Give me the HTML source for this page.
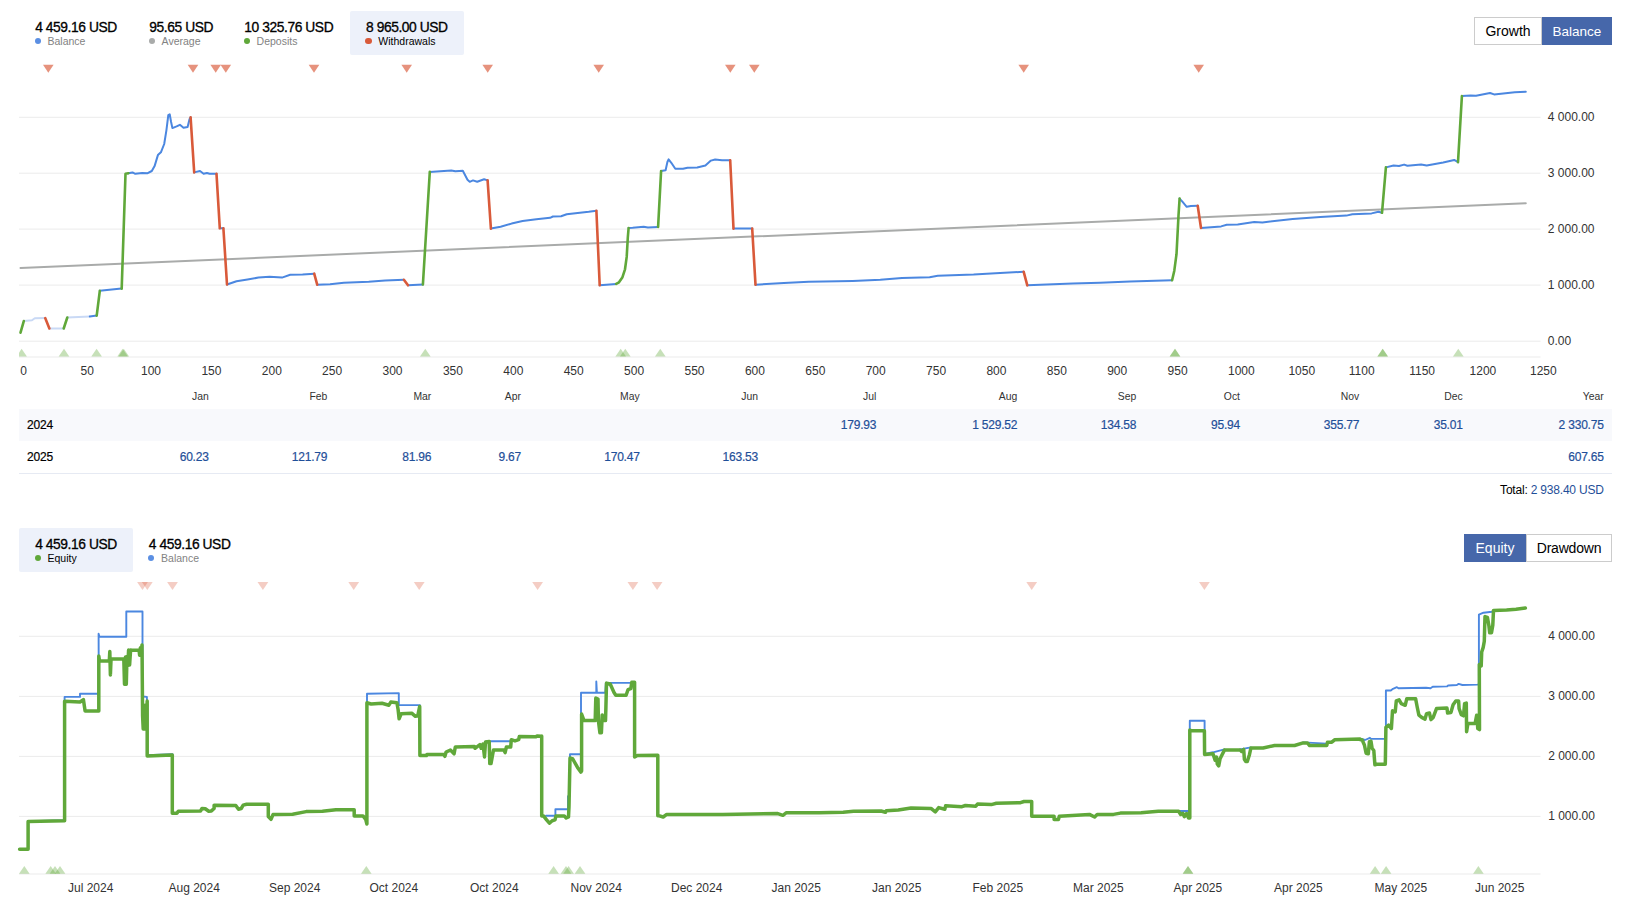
<!DOCTYPE html>
<html lang="en"><head><meta charset="utf-8"><title>Signal charts</title>
<style>
html,body{margin:0;padding:0;background:#fff;}
body{width:1626px;height:908px;position:relative;overflow:hidden;font-family:"Liberation Sans",sans-serif;color:#000;}
svg{position:absolute;left:0;top:0;}
.ax{font-family:"Liberation Sans",sans-serif;font-size:12px;fill:#333;}
.lg{position:absolute;height:43.7px;box-sizing:border-box;padding-left:16px;border-radius:2px;white-space:nowrap;}
.lg.act{background:#edf1fa;}
.lg .v{-webkit-text-stroke:0.3px #000;position:absolute;left:16px;top:8.7px;font-size:13.8px;line-height:16px;letter-spacing:-0.42px;color:#000;}
.lg .l{position:absolute;left:16px;top:24px;font-size:10.5px;line-height:12px;color:#828282;padding-left:12.3px;}
.lg.act .l{color:#000;}
.lg .l i{position:absolute;left:-0.6px;top:3.2px;width:6.2px;height:6.2px;border-radius:50%;}
.btn{position:absolute;height:28px;box-sizing:border-box;border:1px solid #ccc;background:#fff;font-size:14px;line-height:26px;text-align:center;color:#000;}
.btn.on{background:#4667aa;border-color:#4667aa;color:#fff;}
.row{position:absolute;left:19px;width:1593px;box-sizing:border-box;}
.th{position:absolute;font-size:10.4px;line-height:14px;color:#333;white-space:nowrap;}
.td{-webkit-text-stroke:0.2px #1f4f99;position:absolute;font-size:12px;letter-spacing:-0.2px;line-height:16px;color:#1f4f99;white-space:nowrap;}
.yr{-webkit-text-stroke:0.2px #000;position:absolute;font-size:12px;letter-spacing:-0.2px;line-height:16px;color:#000;}
.tot{position:absolute;font-size:12px;letter-spacing:-0.2px;line-height:16px;color:#000;white-space:nowrap;}
.tot span{color:#1f4f99;}
</style></head><body>
<svg width="1626" height="908" viewBox="0 0 1626 908">
<defs><clipPath id="c1"><rect x="19" y="340" width="1522" height="17"/></clipPath></defs>
<line x1="19" x2="1540.5" y1="117.3" y2="117.3" stroke="#ebebeb" stroke-width="1"/>
<line x1="19" x2="1540.5" y1="173.2" y2="173.2" stroke="#ebebeb" stroke-width="1"/>
<line x1="19" x2="1540.5" y1="229.1" y2="229.1" stroke="#ebebeb" stroke-width="1"/>
<line x1="19" x2="1540.5" y1="285.1" y2="285.1" stroke="#ebebeb" stroke-width="1"/>
<line x1="19" x2="1540.5" y1="341.2" y2="341.2" stroke="#ebebeb" stroke-width="1"/>
<line x1="19" x2="1540.5" y1="357" y2="357" stroke="#ebebeb" stroke-width="1"/>
<path d="M20.5 268.0 L1525.8 203.3" fill="none" stroke="#a9abaa" stroke-width="2.0" stroke-linejoin="round" stroke-linecap="round"/>
<path d="M23.8 321.1 L32.0 320.3 L34.8 318.3 L45.2 318.1" fill="none" stroke="#c9d9f5" stroke-width="2.0" stroke-linejoin="round" stroke-linecap="round"/>
<path d="M49.4 328.5 L63.7 328.5" fill="none" stroke="#c9d9f5" stroke-width="2.0" stroke-linejoin="round" stroke-linecap="round"/>
<path d="M67.3 317.5 L89.8 316.4" fill="none" stroke="#c9d9f5" stroke-width="2.0" stroke-linejoin="round" stroke-linecap="round"/>
<path d="M89.8 316.4 L96.7 315.6" fill="none" stroke="#4b87e0" stroke-width="2.0" stroke-linejoin="round" stroke-linecap="round"/>
<path d="M99.8 290.8 L121.5 288.6" fill="none" stroke="#4b87e0" stroke-width="2.0" stroke-linejoin="round" stroke-linecap="round"/>
<path d="M128.4 173.2 L132.5 172.4 L135.3 173.8 L142.2 173.0 L147.7 173.2 L151.8 171.0 L154.6 166.1 L157.9 155.1 L160.9 152.3 L164.2 144.0 L166.4 130.3 L168.3 115.1 L169.7 114.3 L171.1 122.0 L172.4 128.1 L176.6 126.4 L179.9 124.8 L183.5 127.8 L187.6 127.0 L189.5 119.3 L190.6 117.3" fill="none" stroke="#4b87e0" stroke-width="2.0" stroke-linejoin="round" stroke-linecap="round"/>
<path d="M194.2 172.4 L200.0 171.0 L203.6 173.8 L206.9 173.0 L209.6 173.8 L216.5 173.8" fill="none" stroke="#4b87e0" stroke-width="2.0" stroke-linejoin="round" stroke-linecap="round"/>
<path d="M219.8 228.3 L223.4 228.3" fill="none" stroke="#4b87e0" stroke-width="2.0" stroke-linejoin="round" stroke-linecap="round"/>
<path d="M227.0 284.5 L236.5 281.2 L247.5 279.5 L258.5 277.6 L269.6 276.8 L282.0 277.6 L290.2 274.8 L302.6 274.6 L314.2 273.7" fill="none" stroke="#4b87e0" stroke-width="2.0" stroke-linejoin="round" stroke-linecap="round"/>
<path d="M317.2 284.7 L330.1 284.2 L343.9 282.8 L368.7 281.7 L385.2 280.6 L403.9 279.8" fill="none" stroke="#4b87e0" stroke-width="2.0" stroke-linejoin="round" stroke-linecap="round"/>
<path d="M408.0 285.3 L422.9 284.5" fill="none" stroke="#4b87e0" stroke-width="2.0" stroke-linejoin="round" stroke-linecap="round"/>
<path d="M429.8 171.9 L440.3 171.3 L451.3 170.5 L455.4 171.3 L462.8 170.8 L467.5 179.8 L469.7 181.8 L473.0 180.4 L477.2 181.8 L484.1 179.3 L487.6 180.4" fill="none" stroke="#4b87e0" stroke-width="2.0" stroke-linejoin="round" stroke-linecap="round"/>
<path d="M490.9 228.6 L500.6 226.7 L511.6 223.6 L522.6 221.1 L536.4 219.2 L550.1 217.8 L552.9 216.5 L561.1 216.2 L566.7 214.3 L577.7 212.9 L588.7 211.8 L596.4 210.7" fill="none" stroke="#4b87e0" stroke-width="2.0" stroke-linejoin="round" stroke-linecap="round"/>
<path d="M599.7 285.3 L616.2 283.9" fill="none" stroke="#4b87e0" stroke-width="2.0" stroke-linejoin="round" stroke-linecap="round"/>
<path d="M628.6 228.0 L632.7 227.8 L643.7 226.7 L647.9 227.5 L658.1 226.9" fill="none" stroke="#4b87e0" stroke-width="2.0" stroke-linejoin="round" stroke-linecap="round"/>
<path d="M661.1 171.0 L665.6 170.2 L667.4 162.0 L668.6 159.3 L671.3 162.8 L675.3 168.8 L683.0 168.8 L687.5 167.7 L697.2 167.5 L705.4 165.5 L710.9 160.6 L715.1 159.5 L722.0 160.3 L730.2 160.3" fill="none" stroke="#4b87e0" stroke-width="2.0" stroke-linejoin="round" stroke-linecap="round"/>
<path d="M733.5 228.6 L752.2 228.6" fill="none" stroke="#4b87e0" stroke-width="2.0" stroke-linejoin="round" stroke-linecap="round"/>
<path d="M755.5 284.7 L783.9 283.1 L808.7 281.7 L852.7 280.9 L880.3 279.8 L902.0 278.1 L929.6 277.3 L937.8 275.7 L973.6 274.6 L995.6 273.2 L1023.7 271.8" fill="none" stroke="#4b87e0" stroke-width="2.0" stroke-linejoin="round" stroke-linecap="round"/>
<path d="M1027.3 285.3 L1072.7 283.6 L1100.0 282.8 L1130.0 281.5 L1172.1 280.3" fill="none" stroke="#4b87e0" stroke-width="2.0" stroke-linejoin="round" stroke-linecap="round"/>
<path d="M1179.6 198.6 L1182.6 201.9 L1186.7 206.8 L1190.9 206.0 L1197.7 205.7" fill="none" stroke="#4b87e0" stroke-width="2.0" stroke-linejoin="round" stroke-linecap="round"/>
<path d="M1201.0 228.0 L1221.1 226.4 L1226.7 224.7 L1237.7 224.4 L1254.2 222.0 L1262.4 222.5 L1292.7 218.9 L1320.3 217.0 L1346.4 215.6 L1352.3 214.2 L1371.6 213.4 L1378.5 211.7 L1382.0 212.8" fill="none" stroke="#4b87e0" stroke-width="2.0" stroke-linejoin="round" stroke-linecap="round"/>
<path d="M1385.9 167.4 L1393.6 165.5 L1399.0 166.0 L1404.1 164.6 L1407.4 165.7 L1421.1 164.4 L1426.7 165.5 L1443.2 162.4 L1454.2 159.9 L1458.0 162.1" fill="none" stroke="#4b87e0" stroke-width="2.0" stroke-linejoin="round" stroke-linecap="round"/>
<path d="M1461.9 96.1 L1470.7 95.5 L1476.0 95.8 L1490.0 93.0 L1494.1 94.4 L1514.8 92.2 L1525.8 91.7" fill="none" stroke="#4b87e0" stroke-width="2.0" stroke-linejoin="round" stroke-linecap="round"/>
<path d="M20.5 332.7 L23.8 321.1" fill="none" stroke="#60a83a" stroke-width="2.6" stroke-linejoin="round" stroke-linecap="round"/>
<path d="M45.2 318.1 L49.4 328.5" fill="none" stroke="#d95a3a" stroke-width="2.6" stroke-linejoin="round" stroke-linecap="round"/>
<path d="M63.7 328.5 L67.3 317.5" fill="none" stroke="#60a83a" stroke-width="2.6" stroke-linejoin="round" stroke-linecap="round"/>
<path d="M96.7 315.6 L99.8 290.8" fill="none" stroke="#60a83a" stroke-width="2.6" stroke-linejoin="round" stroke-linecap="round"/>
<path d="M121.7 288.6 L125.5 173.8 L128.4 173.2" fill="none" stroke="#60a83a" stroke-width="2.6" stroke-linejoin="round" stroke-linecap="round"/>
<path d="M190.6 117.3 L194.2 172.4" fill="none" stroke="#d95a3a" stroke-width="2.6" stroke-linejoin="round" stroke-linecap="round"/>
<path d="M216.5 173.8 L219.8 228.3" fill="none" stroke="#d95a3a" stroke-width="2.6" stroke-linejoin="round" stroke-linecap="round"/>
<path d="M223.4 228.3 L227.0 284.5" fill="none" stroke="#d95a3a" stroke-width="2.6" stroke-linejoin="round" stroke-linecap="round"/>
<path d="M314.2 273.7 L317.2 284.7" fill="none" stroke="#d95a3a" stroke-width="2.6" stroke-linejoin="round" stroke-linecap="round"/>
<path d="M403.9 279.8 L408.0 285.3" fill="none" stroke="#d95a3a" stroke-width="2.6" stroke-linejoin="round" stroke-linecap="round"/>
<path d="M422.9 284.5 L429.8 171.9" fill="none" stroke="#60a83a" stroke-width="2.6" stroke-linejoin="round" stroke-linecap="round"/>
<path d="M487.6 180.4 L490.9 228.6" fill="none" stroke="#d95a3a" stroke-width="2.6" stroke-linejoin="round" stroke-linecap="round"/>
<path d="M596.4 210.7 L599.7 285.3" fill="none" stroke="#d95a3a" stroke-width="2.6" stroke-linejoin="round" stroke-linecap="round"/>
<path d="M616.2 283.9 L619.0 282.3 L622.3 277.6 L625.0 269.3 L626.7 256.9 L627.8 237.7 L628.6 228.0" fill="none" stroke="#60a83a" stroke-width="2.6" stroke-linejoin="round" stroke-linecap="round"/>
<path d="M658.1 226.9 L661.1 171.0" fill="none" stroke="#60a83a" stroke-width="2.6" stroke-linejoin="round" stroke-linecap="round"/>
<path d="M730.2 160.3 L733.5 228.6" fill="none" stroke="#d95a3a" stroke-width="2.6" stroke-linejoin="round" stroke-linecap="round"/>
<path d="M752.2 228.6 L755.5 284.7" fill="none" stroke="#d95a3a" stroke-width="2.6" stroke-linejoin="round" stroke-linecap="round"/>
<path d="M1023.7 271.8 L1027.3 285.3" fill="none" stroke="#d95a3a" stroke-width="2.6" stroke-linejoin="round" stroke-linecap="round"/>
<path d="M1172.1 280.3 L1174.3 270.7 L1176.5 254.2 L1178.5 215.6 L1179.6 198.6" fill="none" stroke="#60a83a" stroke-width="2.6" stroke-linejoin="round" stroke-linecap="round"/>
<path d="M1197.7 205.7 L1201.0 228.0" fill="none" stroke="#d95a3a" stroke-width="2.6" stroke-linejoin="round" stroke-linecap="round"/>
<path d="M1382.0 212.8 L1385.9 167.4" fill="none" stroke="#60a83a" stroke-width="2.6" stroke-linejoin="round" stroke-linecap="round"/>
<path d="M1458.0 162.1 L1461.9 96.1" fill="none" stroke="#60a83a" stroke-width="2.6" stroke-linejoin="round" stroke-linecap="round"/>
<path d="M43.0 64.8L53.6 64.8L48.3 72.7Z" fill="#d95a3a" fill-opacity="0.66"/>
<path d="M187.7 64.8L198.3 64.8L193.0 72.7Z" fill="#d95a3a" fill-opacity="0.66"/>
<path d="M210.4 64.8L221.0 64.8L215.7 72.7Z" fill="#d95a3a" fill-opacity="0.66"/>
<path d="M220.5 64.8L231.1 64.8L225.8 72.7Z" fill="#d95a3a" fill-opacity="0.66"/>
<path d="M308.7 64.8L319.3 64.8L314.0 72.7Z" fill="#d95a3a" fill-opacity="0.66"/>
<path d="M401.4 64.8L412.0 64.8L406.7 72.7Z" fill="#d95a3a" fill-opacity="0.66"/>
<path d="M482.4 64.8L493.0 64.8L487.7 72.7Z" fill="#d95a3a" fill-opacity="0.66"/>
<path d="M593.4 64.8L604.0 64.8L598.7 72.7Z" fill="#d95a3a" fill-opacity="0.66"/>
<path d="M725.0 64.8L735.6 64.8L730.3 72.7Z" fill="#d95a3a" fill-opacity="0.66"/>
<path d="M749.0 64.8L759.6 64.8L754.3 72.7Z" fill="#d95a3a" fill-opacity="0.66"/>
<path d="M1018.4 64.8L1029.0 64.8L1023.7 72.7Z" fill="#d95a3a" fill-opacity="0.66"/>
<path d="M1193.4 64.8L1204.0 64.8L1198.7 72.7Z" fill="#d95a3a" fill-opacity="0.66"/>
<g clip-path="url(#c1)">
<path d="M16.3 356.6L26.9 356.6L21.6 348.8Z" fill="#60a83a" fill-opacity="0.36"/>
<path d="M58.7 356.6L69.3 356.6L64.0 348.8Z" fill="#60a83a" fill-opacity="0.36"/>
<path d="M91.3 356.6L101.9 356.6L96.6 348.8Z" fill="#60a83a" fill-opacity="0.36"/>
<path d="M117.3 356.6L127.9 356.6L122.6 348.8Z" fill="#60a83a" fill-opacity="0.36"/>
<path d="M118.5 356.6L129.1 356.6L123.8 348.8Z" fill="#60a83a" fill-opacity="0.36"/>
<path d="M420.0 356.6L430.6 356.6L425.3 348.8Z" fill="#60a83a" fill-opacity="0.36"/>
<path d="M615.4 356.6L626.0 356.6L620.7 348.8Z" fill="#60a83a" fill-opacity="0.36"/>
<path d="M620.0 356.6L630.6 356.6L625.3 348.8Z" fill="#60a83a" fill-opacity="0.36"/>
<path d="M655.0 356.6L665.6 356.6L660.3 348.8Z" fill="#60a83a" fill-opacity="0.36"/>
<path d="M1169.7 356.6L1180.3 356.6L1175.0 348.8Z" fill="#60a83a" fill-opacity="0.36"/>
<path d="M1169.7 356.6L1180.3 356.6L1175.0 348.8Z" fill="#60a83a" fill-opacity="0.36"/>
<path d="M1377.4 356.6L1388.0 356.6L1382.7 348.8Z" fill="#60a83a" fill-opacity="0.36"/>
<path d="M1377.4 356.6L1388.0 356.6L1382.7 348.8Z" fill="#60a83a" fill-opacity="0.36"/>
<path d="M1453.0 356.6L1463.6 356.6L1458.3 348.8Z" fill="#60a83a" fill-opacity="0.36"/>
</g>
<text x="20.2" y="375" class="ax">0</text>
<text x="80.6" y="375" class="ax">50</text>
<text x="141.0" y="375" class="ax">100</text>
<text x="201.4" y="375" class="ax">150</text>
<text x="261.8" y="375" class="ax">200</text>
<text x="322.1" y="375" class="ax">250</text>
<text x="382.5" y="375" class="ax">300</text>
<text x="442.9" y="375" class="ax">350</text>
<text x="503.3" y="375" class="ax">400</text>
<text x="563.7" y="375" class="ax">450</text>
<text x="624.1" y="375" class="ax">500</text>
<text x="684.5" y="375" class="ax">550</text>
<text x="744.9" y="375" class="ax">600</text>
<text x="805.3" y="375" class="ax">650</text>
<text x="865.7" y="375" class="ax">700</text>
<text x="926.1" y="375" class="ax">750</text>
<text x="986.4" y="375" class="ax">800</text>
<text x="1046.8" y="375" class="ax">850</text>
<text x="1107.2" y="375" class="ax">900</text>
<text x="1167.6" y="375" class="ax">950</text>
<text x="1228.0" y="375" class="ax">1000</text>
<text x="1288.4" y="375" class="ax">1050</text>
<text x="1348.8" y="375" class="ax">1100</text>
<text x="1409.2" y="375" class="ax">1150</text>
<text x="1469.6" y="375" class="ax">1200</text>
<text x="1530.0" y="375" class="ax">1250</text>
<text x="1547.8" y="121.1" class="ax">4 000.00</text>
<text x="1547.8" y="177.0" class="ax">3 000.00</text>
<text x="1547.8" y="232.9" class="ax">2 000.00</text>
<text x="1547.8" y="288.9" class="ax">1 000.00</text>
<text x="1547.8" y="345.0" class="ax">0.00</text>
<line x1="19" x2="1540.5" y1="636.3" y2="636.3" stroke="#ebebeb" stroke-width="1"/>
<line x1="19" x2="1540.5" y1="696.4" y2="696.4" stroke="#ebebeb" stroke-width="1"/>
<line x1="19" x2="1540.5" y1="756.4" y2="756.4" stroke="#ebebeb" stroke-width="1"/>
<line x1="19" x2="1540.5" y1="816.4" y2="816.4" stroke="#ebebeb" stroke-width="1"/>
<line x1="19" x2="1540.5" y1="874" y2="874" stroke="#ebebeb" stroke-width="1"/>
<path d="M19.6 849.0 L28.1 849.0 L28.1 821.2 L50.0 820.6 L64.6 820.2 L64.6 696.9 L80.0 696.9 L80.0 693.8 L98.8 693.8 L98.6 633.7 L99.4 636.8 L126.3 636.8 L126.3 611.5 L142.5 611.5 L142.5 696.5 L146.9 696.9 L146.9 755.2 L172.5 754.3 L172.5 812.0" fill="none" stroke="#4b87e0" stroke-width="1.9" stroke-linejoin="round" stroke-linecap="round" stroke-linejoin="miter"/>
<path d="M367.0 822.0 L367.0 693.8 L398.8 693.1 L398.8 705.1 L419.9 705.1 L419.9 754.0" fill="none" stroke="#4b87e0" stroke-width="1.9" stroke-linejoin="round" stroke-linecap="round" stroke-linejoin="miter"/>
<path d="M486.0 741.5 L491.2 741.3 L511.0 741.3" fill="none" stroke="#4b87e0" stroke-width="1.9" stroke-linejoin="round" stroke-linecap="round" stroke-linejoin="miter"/>
<path d="M546.0 815.7 L555.4 815.7 L555.4 809.2 L568.0 809.2 L568.0 796.2 L569.6 796.2 L570.0 754.2 L581.0 754.2 L581.0 692.8 L596.3 692.8 L596.3 681.5 L596.9 692.8 L605.3 692.8 L605.9 682.9 L634.6 682.9 L634.6 755.0" fill="none" stroke="#4b87e0" stroke-width="1.9" stroke-linejoin="round" stroke-linecap="round" stroke-linejoin="miter"/>
<path d="M1180.0 811.0 L1189.7 811.0 L1189.8 720.8 L1204.6 720.8 L1204.6 754.0 L1213.0 752.3 L1224.4 749.3" fill="none" stroke="#4b87e0" stroke-width="1.9" stroke-linejoin="round" stroke-linecap="round" stroke-linejoin="miter"/>
<path d="M1240.0 749.4 L1250.9 747.4" fill="none" stroke="#4b87e0" stroke-width="1.9" stroke-linejoin="round" stroke-linecap="round" stroke-linejoin="miter"/>
<path d="M1303.1 742.4 L1326.8 743.6" fill="none" stroke="#4b87e0" stroke-width="1.9" stroke-linejoin="round" stroke-linecap="round" stroke-linejoin="miter"/>
<path d="M1337.5 740.0 L1363.0 739.3 L1365.0 740.0 L1369.9 737.8 L1371.0 738.9 L1384.8 738.9 L1385.9 738.9 L1385.9 690.5 L1390.8 690.5 L1393.0 688.8 L1396.9 687.2 L1398.5 688.3 L1426.1 687.7 L1430.5 688.3 L1432.7 686.8 L1447.0 686.4 L1448.1 685.5 L1456.9 685.0 L1458.6 683.9 L1462.4 685.0 L1477.3 684.6 L1478.9 684.4 L1478.9 614.7 L1483.5 612.7 L1492.0 611.7 L1493.5 610.4" fill="none" stroke="#4b87e0" stroke-width="1.9" stroke-linejoin="round" stroke-linecap="round" stroke-linejoin="miter"/>
<path d="M19.6 849.2 L28.1 849.2 L28.1 821.5 L64.6 820.8 L64.6 701.3 L80.0 702.0 L83.4 699.6 L85.1 710.9 L98.8 710.9 L98.8 656.0 L99.5 660.9 L109.3 660.9 L109.8 651.5 L110.4 674.9 L111.0 660.0 L111.5 659.0 L123.8 659.0 L124.5 684.3 L125.5 657.0 L126.3 684.3 L127.0 656.5 L127.8 665.5 L128.6 650.0 L129.6 665.0 L130.6 650.0 L131.2 650.2 L139.1 650.2 L139.6 655.2 L140.4 647.8 L141.2 655.2 L142.0 645.0 L142.6 716.0 L143.2 729.0 L144.0 709.0 L144.8 729.0 L145.6 705.0 L146.4 727.0 L147.2 701.1 L147.2 756.0 L172.3 755.0 L172.3 813.2 L176.9 813.2 L178.3 811.2 L200.6 810.9 L202.0 808.5 L205.3 808.8 L208.7 811.2 L211.4 810.9 L214.1 808.5 L214.1 805.2 L235.8 805.5 L238.5 809.2 L241.2 808.5 L243.2 805.1 L246.6 804.2 L268.3 804.2 L268.3 816.6 L271.0 819.3 L273.0 814.6 L292.6 814.2 L306.1 811.6 L322.4 811.2 L335.9 809.8 L354.2 809.8 L354.2 815.9 L363.0 815.9 L365.7 819.3 L366.9 824.0 L366.9 702.8 L371.1 704.0 L382.0 703.3 L388.9 705.2 L390.8 702.1 L396.9 702.8 L398.1 709.5 L399.1 718.7 L401.2 713.8 L411.7 713.2 L415.4 716.3 L417.8 715.7 L419.7 706.4 L419.9 755.6 L426.4 755.6 L427.0 754.4 L443.6 754.4 L444.9 756.3 L446.1 752.0 L450.4 750.1 L454.1 753.8 L455.3 747.0 L474.4 746.4 L475.0 748.3 L479.9 744.6 L481.2 748.3 L483.0 744.0 L484.5 756.9 L485.5 742.1 L489.2 741.5 L489.8 763.6 L491.0 763.6 L492.8 753.8 L493.5 750.1 L503.9 750.1 L505.1 752.6 L506.4 747.0 L510.7 747.0 L511.3 739.7 L515.0 740.9 L518.7 739.7 L519.3 736.6 L535.9 736.8 L537.1 736.0 L541.4 736.3 L541.7 736.1 L541.7 816.1 L543.7 816.1 L546.6 819.9 L549.4 823.2 L552.2 820.7 L555.0 819.9 L555.9 816.1 L564.3 816.1 L566.2 818.0 L568.5 817.0 L569.0 806.7 L570.0 758.0 L572.8 759.0 L577.5 767.4 L580.8 772.1 L581.6 771.0 L581.6 714.0 L584.0 720.6 L595.2 720.6 L595.8 698.1 L598.0 699.0 L598.4 720.6 L599.9 732.7 L601.4 732.7 L602.2 714.9 L603.7 720.6 L605.5 720.6 L605.9 707.5 L606.5 683.1 L610.2 684.0 L614.0 692.5 L615.8 695.3 L626.1 695.3 L628.0 689.7 L630.8 688.7 L631.8 682.2 L634.6 682.2 L634.6 757.1 L637.3 755.5 L657.8 755.3 L657.8 815.7 L657.8 815.3 L663.2 817.0 L666.7 814.4 L722.7 814.4 L777.8 813.6 L782.9 815.3 L786.4 812.7 L819.1 812.7 L843.2 812.2 L853.5 811.3 L881.1 811.0 L885.4 812.3 L886.3 810.7 L898.3 810.1 L911.0 808.1 L931.0 808.4 L935.3 811.9 L938.7 807.6 L944.8 809.3 L945.6 805.8 L962.0 806.7 L965.4 805.5 L975.8 806.2 L977.5 804.1 L991.3 804.6 L996.4 803.2 L1020.5 802.7 L1024.0 801.5 L1031.7 801.5 L1031.7 816.2 L1054.1 816.2 L1054.1 819.6 L1058.4 819.6 L1059.3 816.2 L1089.4 814.4 L1094.6 817.0 L1097.2 814.4 L1113.5 814.4 L1120.4 813.1 L1141.1 812.7 L1158.3 811.3 L1177.3 811.3 L1178.6 811.2 L1180.7 814.5 L1182.9 813.3 L1184.3 816.7 L1186.5 813.5 L1188.6 818.1 L1189.8 818.1 L1189.8 730.1 L1192.0 730.8 L1204.4 730.8 L1204.6 754.4 L1213.0 753.7 L1215.1 760.1 L1216.5 757.0 L1217.3 764.0 L1218.7 765.9 L1220.1 758.7 L1224.4 750.1 L1240.2 750.1 L1241.6 751.5 L1243.7 749.4 L1244.4 759.4 L1245.8 761.6 L1247.3 761.6 L1249.5 754.4 L1250.9 748.0 L1263.1 748.0 L1274.5 745.5 L1294.6 745.5 L1303.1 742.9 L1307.4 742.9 L1309.6 745.5 L1326.8 745.5 L1327.5 742.2 L1331.8 742.2 L1334.6 739.8 L1359.9 738.9 L1360.0 739.5 L1362.2 740.0 L1364.4 745.0 L1366.1 753.2 L1368.3 753.8 L1369.4 741.7 L1371.0 741.2 L1372.1 748.3 L1373.8 750.5 L1374.9 764.8 L1376.5 764.3 L1385.3 764.3 L1385.9 727.4 L1388.6 725.2 L1391.4 728.5 L1392.5 710.8 L1395.2 711.9 L1396.3 700.9 L1399.1 699.8 L1401.3 703.7 L1405.2 705.3 L1406.8 698.7 L1415.6 698.7 L1417.3 707.5 L1418.9 715.2 L1421.7 717.4 L1425.0 719.1 L1426.6 713.6 L1429.4 713.0 L1431.0 719.6 L1433.2 717.4 L1436.5 708.6 L1447.0 708.1 L1447.6 713.0 L1450.9 712.5 L1453.1 704.8 L1455.8 700.9 L1458.6 700.9 L1459.1 708.6 L1461.3 714.7 L1463.5 715.8 L1464.6 703.7 L1466.3 703.1 L1466.6 731.8 L1467.9 723.5 L1475.1 723.5 L1476.7 715.2 L1477.8 728.5 L1479.5 729.6 L1479.3 664.4 L1481.2 665.9 L1481.7 652.0 L1483.2 647.4 L1484.3 641.3 L1484.7 625.8 L1485.0 616.6 L1487.4 617.4 L1488.9 625.8 L1489.7 632.8 L1491.5 632.8 L1492.8 625.1 L1493.5 610.4 L1506.6 610.0 L1516.0 609.2 L1525.4 608.1" fill="none" stroke="#60a83a" stroke-width="3.5" stroke-linejoin="round" stroke-linecap="round"/>
<path d="M137.1 582.0L147.9 582.0L142.5 589.9Z" fill="#d95a3a" fill-opacity="0.3"/>
<path d="M141.9 582.0L152.7 582.0L147.3 589.9Z" fill="#d95a3a" fill-opacity="0.3"/>
<path d="M167.1 582.0L177.9 582.0L172.5 589.9Z" fill="#d95a3a" fill-opacity="0.3"/>
<path d="M257.5 582.0L268.3 582.0L262.9 589.9Z" fill="#d95a3a" fill-opacity="0.3"/>
<path d="M348.3 582.0L359.1 582.0L353.7 589.9Z" fill="#d95a3a" fill-opacity="0.3"/>
<path d="M413.8 582.0L424.6 582.0L419.2 589.9Z" fill="#d95a3a" fill-opacity="0.3"/>
<path d="M532.2 582.0L543.0 582.0L537.6 589.9Z" fill="#d95a3a" fill-opacity="0.3"/>
<path d="M627.5 582.0L638.3 582.0L632.9 589.9Z" fill="#d95a3a" fill-opacity="0.3"/>
<path d="M651.7 582.0L662.5 582.0L657.1 589.9Z" fill="#d95a3a" fill-opacity="0.3"/>
<path d="M1026.3 582.0L1037.1 582.0L1031.7 589.9Z" fill="#d95a3a" fill-opacity="0.3"/>
<path d="M1199.0 582.0L1209.8 582.0L1204.4 589.9Z" fill="#d95a3a" fill-opacity="0.3"/>
<path d="M19.0 873.7L29.6 873.7L24.3 865.9Z" fill="#60a83a" fill-opacity="0.36"/>
<path d="M45.4 873.7L56.0 873.7L50.7 865.9Z" fill="#60a83a" fill-opacity="0.36"/>
<path d="M49.7 873.7L60.3 873.7L55.0 865.9Z" fill="#60a83a" fill-opacity="0.36"/>
<path d="M54.7 873.7L65.3 873.7L60.0 865.9Z" fill="#60a83a" fill-opacity="0.36"/>
<path d="M361.0 873.7L371.6 873.7L366.3 865.9Z" fill="#60a83a" fill-opacity="0.36"/>
<path d="M548.3 873.7L558.9 873.7L553.6 865.9Z" fill="#60a83a" fill-opacity="0.36"/>
<path d="M560.7 873.7L571.3 873.7L566.0 865.9Z" fill="#60a83a" fill-opacity="0.36"/>
<path d="M563.3 873.7L573.9 873.7L568.6 865.9Z" fill="#60a83a" fill-opacity="0.36"/>
<path d="M574.7 873.7L585.3 873.7L580.0 865.9Z" fill="#60a83a" fill-opacity="0.36"/>
<path d="M1182.7 873.7L1193.3 873.7L1188.0 865.9Z" fill="#60a83a" fill-opacity="0.36"/>
<path d="M1182.7 873.7L1193.3 873.7L1188.0 865.9Z" fill="#60a83a" fill-opacity="0.36"/>
<path d="M1369.8 873.7L1380.4 873.7L1375.1 865.9Z" fill="#60a83a" fill-opacity="0.36"/>
<path d="M1380.8 873.7L1391.4 873.7L1386.1 865.9Z" fill="#60a83a" fill-opacity="0.36"/>
<path d="M1473.1 873.7L1483.7 873.7L1478.4 865.9Z" fill="#60a83a" fill-opacity="0.36"/>
<text x="68.0" y="892" class="ax">Jul 2024</text>
<text x="168.5" y="892" class="ax">Aug 2024</text>
<text x="269.0" y="892" class="ax">Sep 2024</text>
<text x="369.5" y="892" class="ax">Oct 2024</text>
<text x="470.0" y="892" class="ax">Oct 2024</text>
<text x="570.5" y="892" class="ax">Nov 2024</text>
<text x="671.0" y="892" class="ax">Dec 2024</text>
<text x="771.5" y="892" class="ax">Jan 2025</text>
<text x="872.0" y="892" class="ax">Jan 2025</text>
<text x="972.5" y="892" class="ax">Feb 2025</text>
<text x="1073.0" y="892" class="ax">Mar 2025</text>
<text x="1173.5" y="892" class="ax">Apr 2025</text>
<text x="1274.0" y="892" class="ax">Apr 2025</text>
<text x="1374.5" y="892" class="ax">May 2025</text>
<text x="1475.0" y="892" class="ax">Jun 2025</text>
<text x="1548.2" y="639.9" class="ax">4 000.00</text>
<text x="1548.2" y="699.9" class="ax">3 000.00</text>
<text x="1548.2" y="759.9" class="ax">2 000.00</text>
<text x="1548.2" y="819.9" class="ax">1 000.00</text>
</svg>
<div class="lg" style="left:19.2px;top:11.0px;width:113.6px;"><div class="v">4 459.16 USD</div><div class="l"><i style="background:#5b8fe3"></i>Balance</div></div>
<div class="lg" style="left:133.3px;top:11.0px;width:94.3px;"><div class="v">95.65 USD</div><div class="l"><i style="background:#a9abaa"></i>Average</div></div>
<div class="lg" style="left:228.3px;top:11.0px;width:120.5px;"><div class="v">10 325.76 USD</div><div class="l"><i style="background:#60a83a"></i>Deposits</div></div>
<div class="lg act" style="left:350.0px;top:11.0px;width:113.7px;"><div class="v">8 965.00 USD</div><div class="l"><i style="background:#d95a3a"></i>Withdrawals</div></div>
<div class="lg act" style="left:19.2px;top:528.0px;width:113.6px;"><div class="v">4 459.16 USD</div><div class="l"><i style="background:#60a83a"></i>Equity</div></div>
<div class="lg" style="left:132.8px;top:528.0px;width:113.6px;"><div class="v">4 459.16 USD</div><div class="l"><i style="background:#5b8fe3"></i>Balance</div></div>
<div class="btn" style="left:1474px;top:17px;width:68px;">Growth</div>
<div class="btn on" style="left:1542px;top:17px;width:70px;"><span style="font-size:13.5px">Balance</span></div>
<div class="btn on" style="left:1464px;top:534px;width:62px;">Equity</div>
<div class="btn" style="left:1526px;top:534px;width:86px;"><span style="letter-spacing:-0.2px">Drawdown</span></div>
<div class="row" style="top:409px;height:32px;background:#f8f9fc"></div>
<div class="row" style="top:441px;height:33px;border-bottom:1px solid #e6eaf3"></div>
<div class="th" style="right:1417.3px;top:390px">Jan</div>
<div class="td" style="right:1417.3px;top:449px">60.23</div>
<div class="th" style="right:1298.7px;top:390px">Feb</div>
<div class="td" style="right:1298.7px;top:449px">121.79</div>
<div class="th" style="right:1194.7px;top:390px">Mar</div>
<div class="td" style="right:1194.7px;top:449px">81.96</div>
<div class="th" style="right:1105.0px;top:390px">Apr</div>
<div class="td" style="right:1105.0px;top:449px">9.67</div>
<div class="th" style="right:986.3px;top:390px">May</div>
<div class="td" style="right:986.3px;top:449px">170.47</div>
<div class="th" style="right:868.0px;top:390px">Jun</div>
<div class="td" style="right:868.0px;top:449px">163.53</div>
<div class="th" style="right:749.7px;top:390px">Jul</div>
<div class="td" style="right:749.7px;top:417px">179.93</div>
<div class="th" style="right:608.7px;top:390px">Aug</div>
<div class="td" style="right:608.7px;top:417px">1 529.52</div>
<div class="th" style="right:489.7px;top:390px">Sep</div>
<div class="td" style="right:489.7px;top:417px">134.58</div>
<div class="th" style="right:386.0px;top:390px">Oct</div>
<div class="td" style="right:386.0px;top:417px">95.94</div>
<div class="th" style="right:266.7px;top:390px">Nov</div>
<div class="td" style="right:266.7px;top:417px">355.77</div>
<div class="th" style="right:163.3px;top:390px">Dec</div>
<div class="td" style="right:163.3px;top:417px">35.01</div>
<div class="th" style="right:22.3px;top:390px">Year</div>
<div class="td" style="right:22.3px;top:417px">2 330.75</div>
<div class="td" style="right:22.3px;top:449px">607.65</div>
<div class="yr" style="left:27px;top:417px">2024</div>
<div class="yr" style="left:27px;top:449px">2025</div>
<div class="tot" style="right:22.3px;top:482px">Total: <span>2 938.40 USD</span></div>
</body></html>
